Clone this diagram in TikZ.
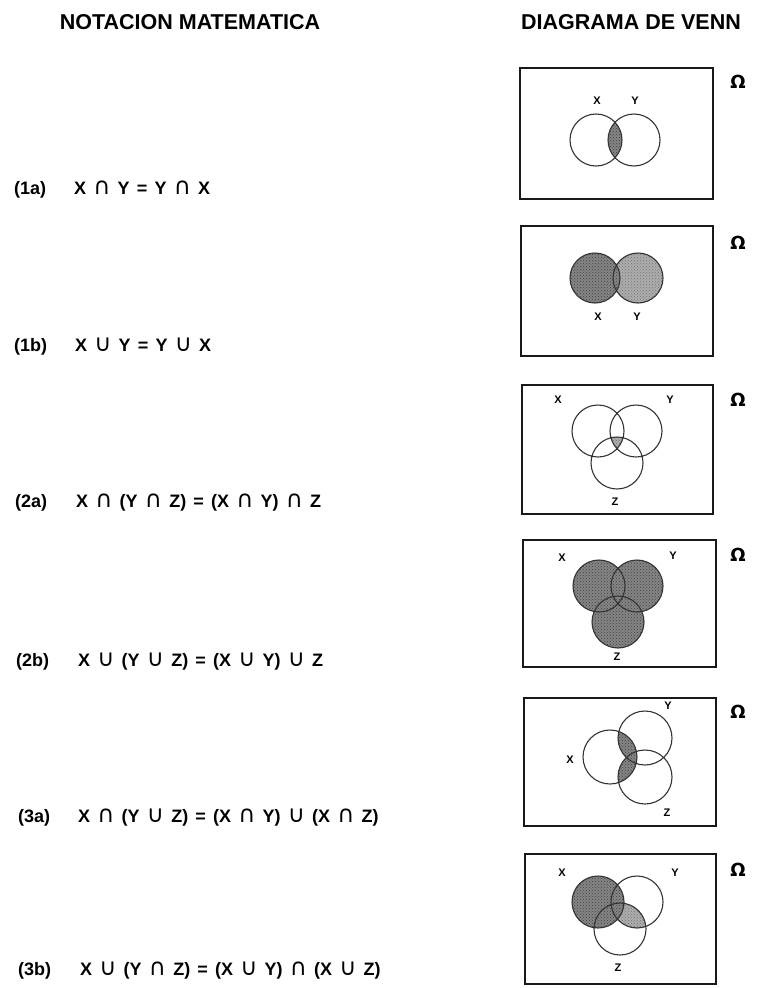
\documentclass[tikz,border=0pt]{standalone}
\usepackage{fontspec}
\usetikzlibrary{patterns}
\setmainfont{Liberation Sans}
\newfontfamily\symf{DejaVu Sans}
\newfontfamily\omegaf{DejaVu Sans}
% set operators and relation with the wide spacing of the printed laws
\newcommand{\opgap}{\hspace{0.4em}}
\newcommand{\inter}{\opgap{\symf\mdseries\scalebox{1.3}{∩}}\opgap}
\newcommand{\uni}{\opgap{\symf\mdseries\scalebox{1.3}{∪}}\opgap}
\newcommand{\eqs}{\opgap=\opgap}
\begin{document}
\begin{tikzpicture}[x=1pt,y=-1pt,
  heading/.style={font=\bfseries\fontsize{21.5}{24}\selectfont, inner sep=0},
  eqlabel/.style={font=\bfseries\fontsize{18}{22}\selectfont, anchor=base west, inner sep=0},
  eqn/.style={font=\bfseries\fontsize{18}{22}\selectfont, anchor=base west, inner sep=0},
  frame/.style={draw=black!90, line width=1.8pt},
  setlabel/.style={font=\bfseries\fontsize{11}{13}\selectfont, inner sep=0},
  omega/.style={font=\omegaf\bfseries\fontsize{18}{21}\selectfont, inner sep=0},
  ring/.style={draw=black!80, line width=1.1pt},
  dark/.style={fill=black!48, postaction={pattern=crosshatch dots, pattern color=black!75}},
  light/.style={fill=black!32, postaction={pattern=crosshatch dots, pattern color=black!55}}]
\useasboundingbox (0,0) rectangle (757,988);

% column headings
\node[heading] (hleft) at (190,22) {NOTACION MATEMATICA};
\node[heading] (hright) at (631,22) {DIAGRAMA DE VENN};

% laws in set notation
\node[eqlabel] (l1a) at (14,194) {(1a)};
\node[eqn] (e1a) at (74,194) {X\inter Y\eqs Y\inter X};
\node[eqlabel] (l1b) at (14,351) {(1b)};
\node[eqn] (e1b) at (75,351) {X\uni Y\eqs Y\uni X};
\node[eqlabel] (l2a) at (15,507) {(2a)};
\node[eqn] (e2a) at (76,507) {X\inter (Y\inter Z)\eqs (X\inter Y)\inter Z};
\node[eqlabel] (l2b) at (16,666) {(2b)};
\node[eqn] (e2b) at (78,666) {X\uni (Y\uni Z)\eqs (X\uni Y)\uni Z};
\node[eqlabel] (l3a) at (18,822) {(3a)};
\node[eqn] (e3a) at (78,822) {X\inter (Y\uni Z)\eqs (X\inter Y)\uni (X\inter Z)};
\node[eqlabel] (l3b) at (18,975) {(3b)};
\node[eqn] (e3b) at (80,975) {X\uni (Y\inter Z)\eqs (X\uni Y)\inter (X\uni Z)};

% universe symbols
\foreach \yy/\nm in {82/o1,243/o2,400/o3,555/o4,712/o5,870/o6}
  \node[omega] (\nm) at (738,\yy) {Ω};

% (1a) intersection
\draw[frame] (520,68) rectangle (713,199);
\begin{scope}
  \clip (596,140) circle (26);
  \fill[dark] (634,140) circle (26);
\end{scope}
\draw[ring] (596,140) circle (26) (634,140) circle (26);
\node[setlabel] (x1) at (597,101) {X};
\node[setlabel] (y1) at (635,101) {Y};

% (1b) union
\draw[frame] (521,226) rectangle (713,356);
\fill[light] (638,278) circle (25);
\fill[dark] (595,278) circle (25);
\draw[ring] (595,278) circle (25) (638,278) circle (25);
\node[setlabel] (x2) at (598,317) {X};
\node[setlabel] (y2) at (637,317) {Y};

% (2a) triple intersection
\draw[frame] (522,385) rectangle (713,514);
\begin{scope}
  \clip (598,431) circle (26);
  \clip (636,431) circle (26);
  \fill[light] (617,463) circle (26);
\end{scope}
\draw[ring] (598,431) circle (26) (636,431) circle (26) (617,463) circle (26);
\node[setlabel] (x3) at (558,400) {X};
\node[setlabel] (y3) at (670,400) {Y};
\node[setlabel] (z3) at (615,502) {Z};

% (2b) triple union
\draw[frame] (523,540) rectangle (716,667);
\fill[dark] (599,586) circle (26) (637,586) circle (26) (618,622) circle (26);
\draw[ring] (599,586) circle (26) (637,586) circle (26) (618,622) circle (26);
\node[setlabel] (x4) at (562,558) {X};
\node[setlabel] (y4) at (673,556) {Y};
\node[setlabel] (z4) at (617,657) {Z};

% (3a) intersection over union
\draw[frame] (524,698) rectangle (716,826);
\begin{scope}
  \clip (610,757) circle (27);
  \fill[dark] (645,738) circle (27) (645,777) circle (27);
\end{scope}
\draw[ring] (610,757) circle (27) (645,738) circle (27) (645,777) circle (27);
\node[setlabel] (x5) at (570,760) {X};
\node[setlabel] (y5) at (668,706) {Y};
\node[setlabel] (z5) at (667,813) {Z};

% (3b) union over intersection
\draw[frame] (525,854) rectangle (716,984);
\begin{scope}
  \clip (637,902) circle (26);
  \fill[light] (620,929) circle (26);
\end{scope}
\fill[dark] (598,902) circle (26);
\draw[ring] (598,902) circle (26) (637,902) circle (26) (620,929) circle (26);
\node[setlabel] (x6) at (562,873) {X};
\node[setlabel] (y6) at (675,873) {Y};
\node[setlabel] (z6) at (618,968) {Z};
\end{tikzpicture}
\end{document}
